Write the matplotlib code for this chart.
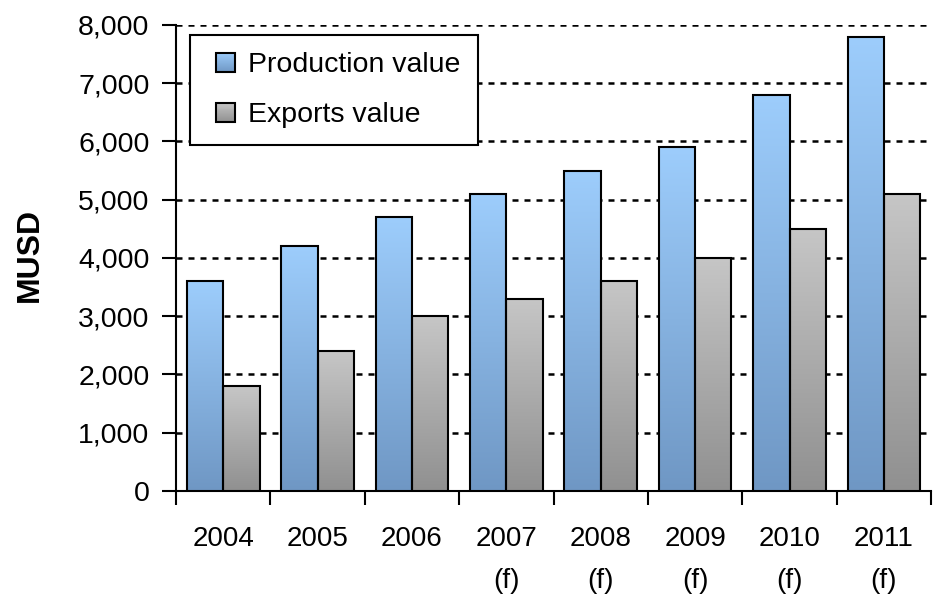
import numpy as np
import matplotlib
matplotlib.use("Agg")
import matplotlib.pyplot as plt
from matplotlib.colors import LinearSegmentedColormap
from matplotlib.legend_handler import HandlerBase
from matplotlib.patches import Rectangle

# ---- data ----
categories = ["2004", "2005", "2006", "2007\n(f)", "2008\n(f)", "2009\n(f)", "2010\n(f)", "2011\n(f)"]
production = [3600, 4200, 4700, 5100, 5500, 5900, 6800, 7800]
exports = [1800, 2400, 3000, 3300, 3600, 4000, 4500, 5100]
series_names = ["Production value", "Exports value"]
yticks = [0, 1000, 2000, 3000, 4000, 5000, 6000, 7000, 8000]
ylabel = "MUSD"

plt.rcParams['font.family'] = ['Liberation Sans', 'DejaVu Sans']

blue_cmap = LinearSegmentedColormap.from_list("b", ["#6f97c4", "#9dcdfc"])
gray_cmap = LinearSegmentedColormap.from_list("g", ["#909090", "#c6c6c6"])

fig = plt.figure(figsize=(9.33, 5.95), dpi=100)
ax = fig.add_axes([0.1886, 0.1748, 0.8094, 0.7832])

x = np.arange(len(categories))
w = 0.385
grad = np.linspace(0, 1, 256).reshape(-1, 1)

def grad_bars(xpos, vals, cmap):
    bars = ax.bar(xpos, vals, width=w, facecolor='none', edgecolor='black',
                  linewidth=1.5, zorder=4)
    for b in bars:
        x0, y0 = b.get_x(), b.get_y()
        ax.imshow(grad, extent=(x0, x0 + b.get_width(), y0, y0 + b.get_height()),
                  origin='lower', aspect='auto', cmap=cmap, zorder=3,
                  interpolation='bilinear')
    return bars

grad_bars(x - w / 2, production, blue_cmap)
grad_bars(x + w / 2, exports, gray_cmap)

ax.set_xlim(-0.5, len(categories) - 0.5)
ax.set_ylim(0, 8000)
ax.set_yticks(yticks)
ax.set_yticklabels([f"{v:,}" for v in yticks], fontsize=20.5)
ax.set_xticks(x)
ax.set_xticklabels(categories, fontsize=20, linespacing=1.8)
ax.set_xticks(np.arange(len(categories) + 1) - 0.5, minor=True)
ax.tick_params(axis='x', which='major', length=0, pad=25)
ax.tick_params(axis='x', which='minor', length=10, width=1.5, direction='out')
ax.tick_params(axis='y', length=10, width=1.5, direction='out', pad=9)

for s in ['top', 'right']:
    ax.spines[s].set_visible(False)
for s in ['left', 'bottom']:
    ax.spines[s].set_linewidth(1.5)

ax.yaxis.grid(True, linestyle=(0, (2.4, 2.4)), color='black', linewidth=1.8)
ax.set_axisbelow(True)

fig.text(0.032, 0.571, ylabel, rotation=90, fontsize=23, fontweight='bold',
         ha='center', va='center')

class GradHandler(HandlerBase):
    def __init__(self, cmap):
        super().__init__()
        self.cmap = cmap
    def create_artists(self, legend, orig_handle, xdescent, ydescent, width, height, fontsize, trans):
        arts = []
        side = 19 * 72 / 100.0
        x0 = -xdescent + width - side
        y0 = -ydescent + (height - side) / 2
        n = 20
        for i in range(n):
            r = Rectangle((x0, y0 + side * i / n), side, side / n + 0.3,
                          facecolor=self.cmap((i + 0.5) / n), edgecolor='none', transform=trans)
            arts.append(r)
        arts.append(Rectangle((x0, y0), side, side, facecolor='none', edgecolor='black',
                              linewidth=1.5, transform=trans))
        return arts

h1 = Rectangle((0, 0), 1, 1)
h2 = Rectangle((0, 0), 1, 1)
leg = ax.legend([h1, h2], series_names, loc='upper left', bbox_to_anchor=(0.0185, 0.9785),
                borderaxespad=0, fancybox=False, fontsize=20.5, frameon=True,
                handler_map={h1: GradHandler(blue_cmap), h2: GradHandler(gray_cmap)},
                handlelength=1.0, handletextpad=0.45, labelspacing=0.85,
                borderpad=0.6, framealpha=1)
leg.get_frame().set_edgecolor('black')
leg.get_frame().set_linewidth(1.5)
leg.set_zorder(10)

fig.savefig("out.png", dpi=100)
